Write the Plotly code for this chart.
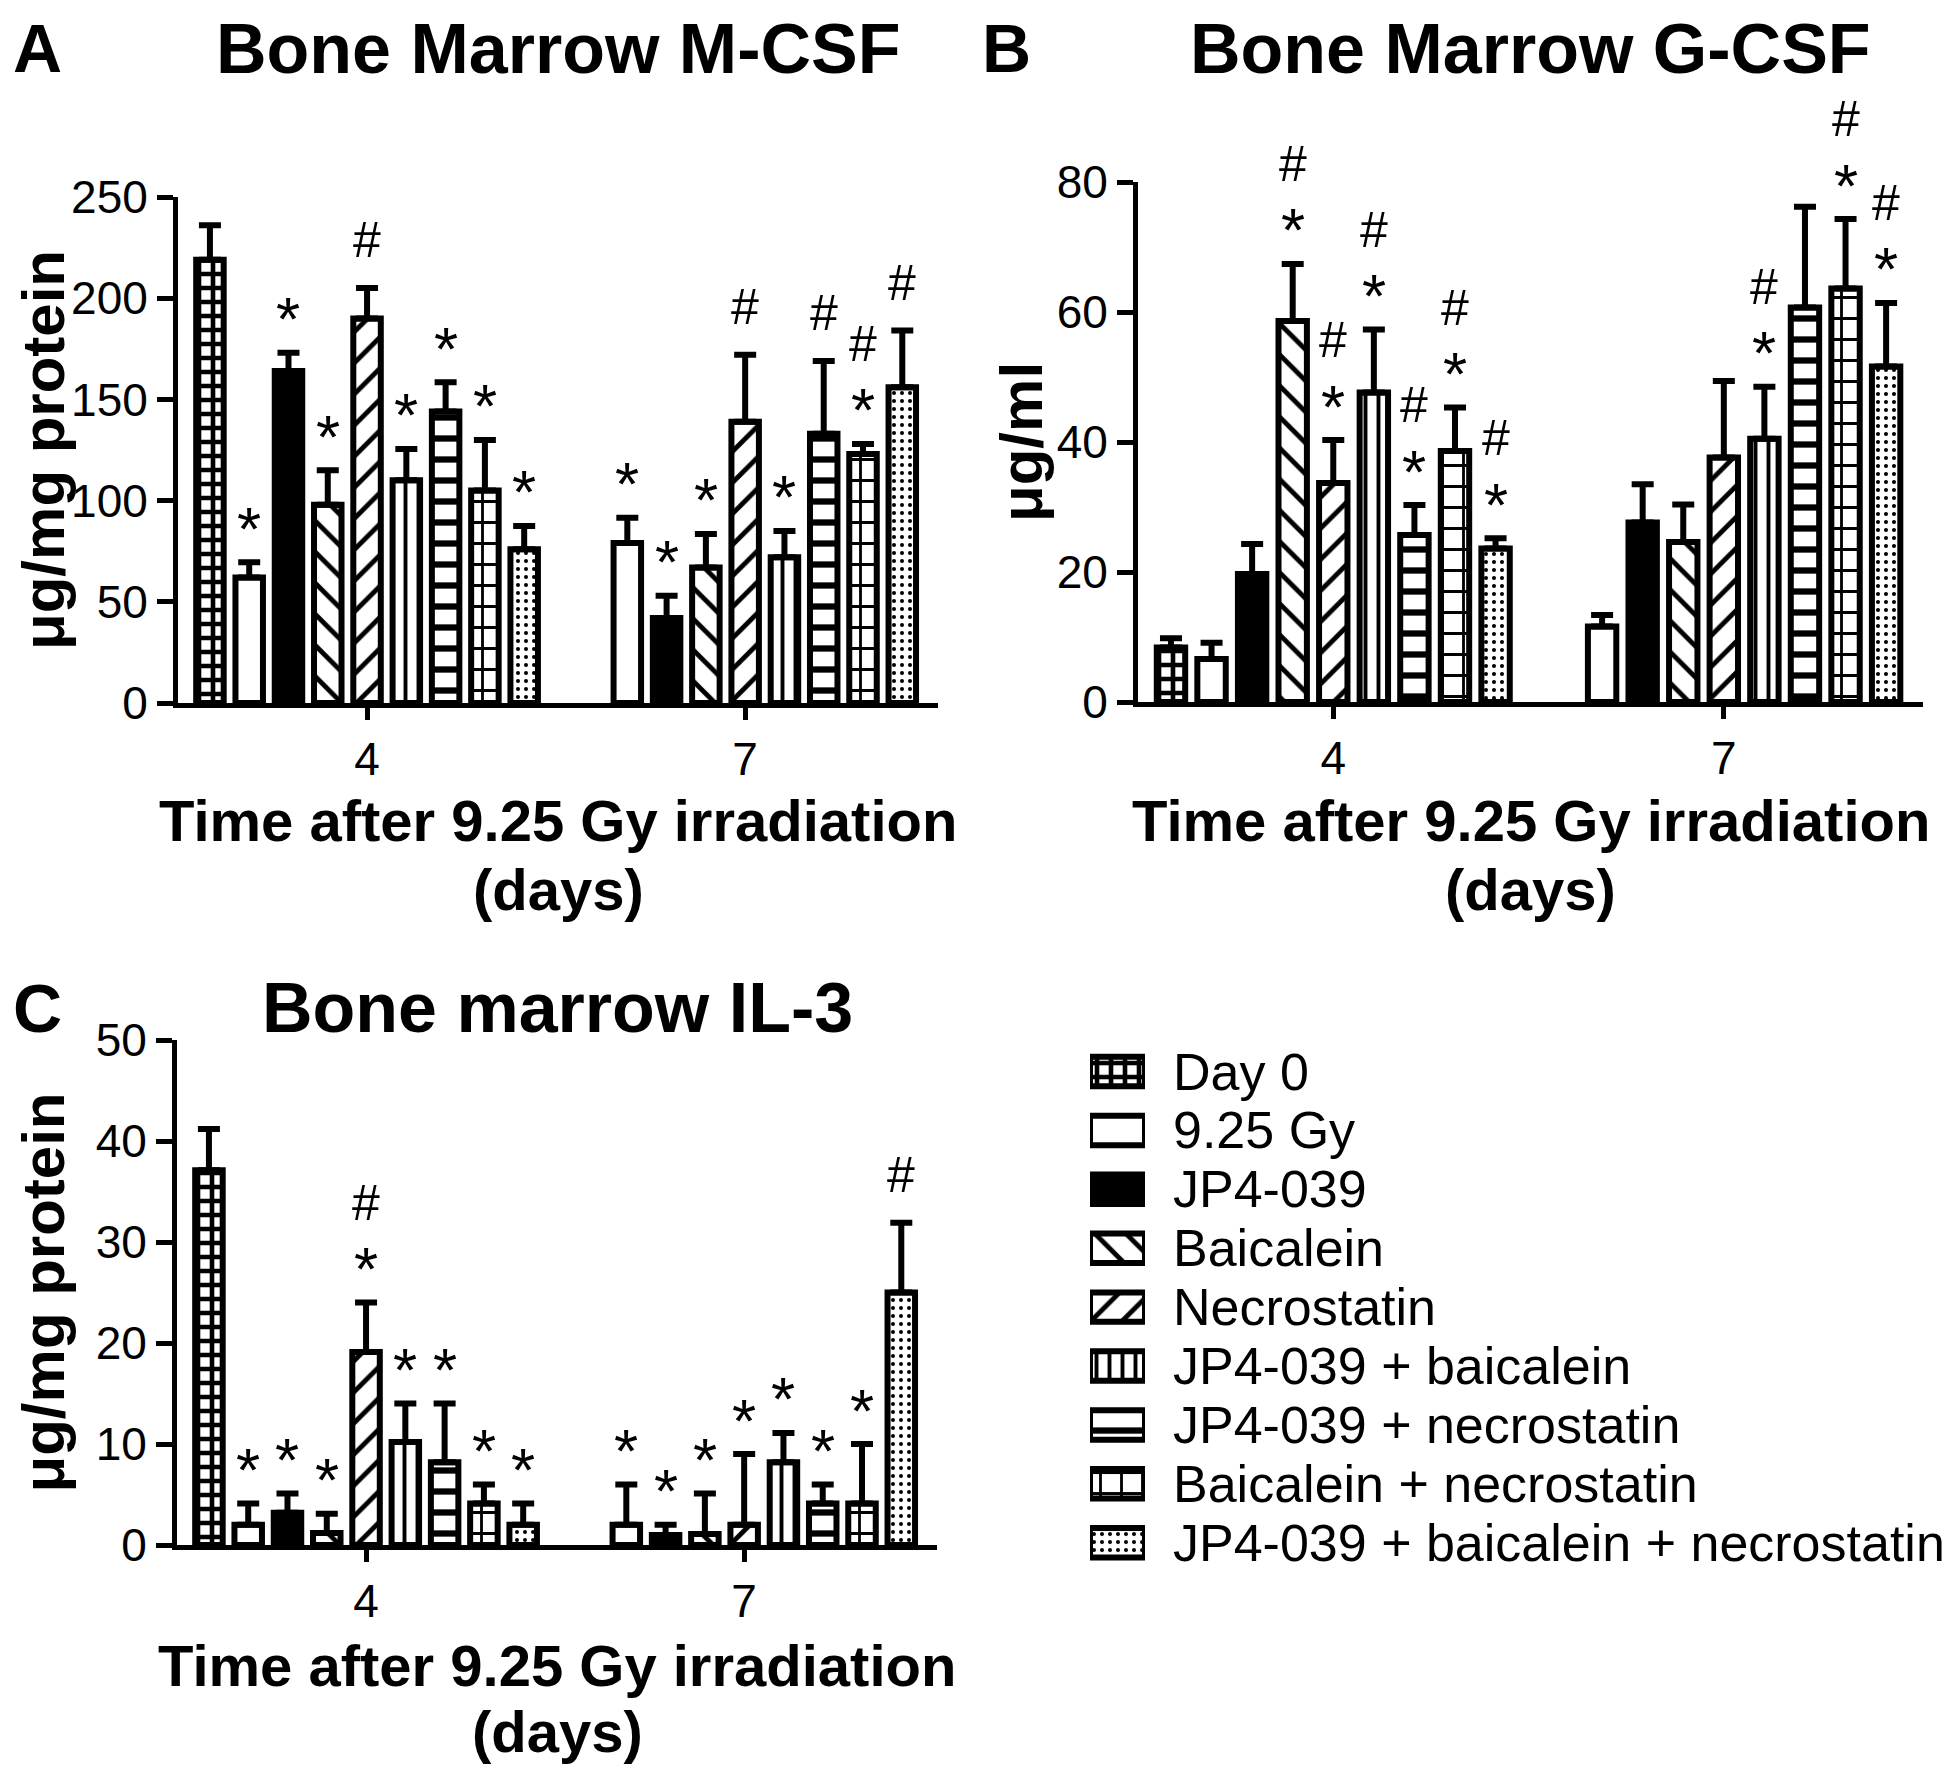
import plotly.graph_objects as go

# treatment groups (legend order) and sampling days
groups = ['Day 0', '9.25 Gy', 'JP4-039', 'Baicalein', 'Necrostatin',
          'JP4-039 + baicalein', 'JP4-039 + necrostatin',
          'Baicalein + necrostatin', 'JP4-039 + baicalein + necrostatin']
days = ['4', '7']

# Panel A - bone marrow M-CSF (ug/mg protein), mean and SEM
mcsf_day4 = [219, 62, 164, 98, 190, 110, 144, 105, 76]
mcsf_day4_sem = [17, 7.5, 9, 17, 15, 15.5, 14.5, 25, 11.5]
mcsf_day7 = [None, 79, 42, 67, 139, 72, 133, 123, 156]
mcsf_day7_sem = [None, 12.5, 11, 16.5, 33, 13, 36, 5, 28]
mcsf_sig_day4 = ['', '*', '*', '*', '#', '*', '*', '*', '*']
mcsf_sig_day7 = ['', '*', '*', '*', '#', '*', '#', '#*', '#']

# Panel B - bone marrow G-CSF (ug/ml)
gcsf_day4 = [8.4, 6.6, 19.7, 58.6, 33.7, 47.6, 25.7, 38.6, 23.6]
gcsf_day4_sem = [1.4, 2.5, 4.6, 8.8, 6.6, 9.7, 4.6, 6.7, 1.6]
gcsf_day7 = [None, 11.6, 27.6, 24.6, 37.6, 40.5, 60.7, 63.6, 51.6]
gcsf_day7_sem = [None, 1.8, 5.9, 5.8, 11.8, 8.0, 15.5, 10.7, 9.8]
gcsf_sig_day4 = ['', '', '', '#*', '#*', '#*', '#*', '#*', '#*']
gcsf_sig_day7 = ['', '', '', '', '', '#*', '', '#*', '#*']

# Panel C - bone marrow IL-3 (ug/mg protein)
il3_day4 = [37.1, 2.0, 3.2, 1.2, 19.1, 10.2, 8.2, 4.1, 2.0]
il3_day4_sem = [4.1, 2.1, 1.9, 1.9, 4.9, 3.8, 5.8, 1.9, 2.1]
il3_day7 = [None, 2.0, 1.0, 1.1, 2.0, 8.2, 4.1, 4.1, 25.0]
il3_day7_sem = [None, 4.0, 1.0, 4.0, 7.0, 2.9, 1.9, 5.9, 6.9]
il3_sig_day4 = ['', '*', '*', '*', '#*', '*', '*', '*', '*']
il3_sig_day7 = ['', '*', '*', '*', '*', '*', '*', '*', '#']

FONT = 'Liberation Sans, Arial, sans-serif'
W, H = 1950, 1768
PAGE_PAD = 8   # default body margin of the html page
BAR_GAP = 0.065
GROUP_GAP = 0.3
SLOT = (1 - BAR_GAP) / len(groups)
LW = 6


def pat(shape, size, solidity):
    return dict(shape=shape, fgcolor='black', bgcolor='white', size=size,
                solidity=solidity, fillmode='replace')


# fill style for each group
styles = [
    dict(color='white', pattern=pat('+', 14, 0.55)),
    dict(color='white'),
    dict(color='black'),
    dict(color='white', pattern=pat('\\', 22, 0.22)),
    dict(color='white', pattern=pat('/', 22, 0.22)),
    dict(color='white', pattern=pat('|', 13, 0.3)),
    dict(color='white', pattern=pat('-', 21, 0.3)),
    dict(color='white', pattern=pat('+', 21, 0.25)),
    dict(color='white', pattern=pat('.', 8, 0.2)),
]


# page pixel -> paper fraction
def px_x(v):
    return (v - PAGE_PAD) / W


def px_y(v):
    return 1 - (v - PAGE_PAD) / H


panels = [
    dict(ax='', letter='A', title='Bone Marrow M-CSF', ylabel='\u03bcg/mg protein',
         d4=mcsf_day4, e4=mcsf_day4_sem, d7=mcsf_day7, e7=mcsf_day7_sem,
         s4=mcsf_sig_day4, s7=mcsf_sig_day7, ymax=250, dtick=50,
         xdom=(178, 938), ydom=(197, 703), title_y=None, letter_x=37, ylab_x=43,
         xlab_y=(821, 889)),
    dict(ax='2', letter='B', title='Bone Marrow G-CSF', ylabel='\u03bcg/ml',
         d4=gcsf_day4, e4=gcsf_day4_sem, d7=gcsf_day7, e7=gcsf_day7_sem,
         s4=gcsf_sig_day4, s7=gcsf_sig_day7, ymax=80, dtick=20,
         xdom=(1138, 1923), ydom=(182, 702), title_y=None, letter_x=1006, ylab_x=1021,
         xlab_y=(821, 889)),
    dict(ax='3', letter='C', title='Bone marrow IL-3', ylabel='\u03bcg/mg protein',
         d4=il3_day4, e4=il3_day4_sem, d7=il3_day7, e7=il3_day7_sem,
         s4=il3_sig_day4, s7=il3_sig_day7, ymax=50, dtick=10,
         xdom=(177, 937), ydom=(1040, 1545), title_y=1008, letter_x=37, ylab_x=43,
         xlab_y=(1665, 1731)),
]

fig = go.Figure()
annotations = []
layout_axes = {}

for p in panels:
    xa, ya = 'x' + p['ax'], 'y' + p['ax']
    for i, g in enumerate(groups):
        fig.add_trace(go.Bar(
            x=[0, 1], y=[p['d4'][i], p['d7'][i]],
            name=g, showlegend=False, xaxis=xa, yaxis=ya,
            marker=dict(line=dict(color='black', width=LW), **styles[i]),
            error_y=dict(type='data', symmetric=False,
                         array=[p['e4'][i], p['e7'][i]], arrayminus=[0, 0],
                         color='black', thickness=LW, width=11),
        ))
        # significance marks above the error bars
        for j, (vals, errs, sig) in enumerate([(p['d4'], p['e4'], p['s4']),
                                               (p['d7'], p['e7'], p['s7'])]):
            mark = sig[i]
            if not mark or vals[i] is None:
                continue
            xpos = j + (i - (len(groups) - 1) / 2) * SLOT
            top = vals[i] + errs[i]
            if '*' in mark:
                annotations.append(dict(x=xpos, y=top, xref=xa, yref=ya, text='*',
                                        yshift=34,
                                        font=dict(family=FONT, size=62, color='black')))
            if '#' in mark:
                annotations.append(dict(x=xpos, y=top, xref=xa, yref=ya, text='#',
                                        yshift=100 if '*' in mark else 48,
                                        font=dict(family=FONT, size=50, color='black')))

    key = p['ax']
    layout_axes['xaxis' + key] = dict(
        domain=[px_x(p['xdom'][0]), px_x(p['xdom'][1])], anchor=ya,
        range=[-0.5, 1.51], tickvals=[0, 1], ticktext=days, automargin=False,
        showline=True, linewidth=5, linecolor='black', ticks='outside',
        ticklen=12, tickwidth=5, tickcolor='black', showgrid=False, zeroline=False,
        tickfont=dict(family=FONT, size=46, color='black'))
    layout_axes['yaxis' + key] = dict(
        domain=[px_y(p['ydom'][1]), px_y(p['ydom'][0])], anchor=xa,
        range=[0, p['ymax']], dtick=p['dtick'], tick0=0, automargin=False,
        showline=True, linewidth=5, linecolor='black', ticks='outside',
        ticklen=16, tickwidth=5, tickcolor='black', showgrid=False, zeroline=False,
        tickfont=dict(family=FONT, size=46, color='black'))

    xmid = px_x((p['xdom'][0] + p['xdom'][1]) / 2)
    ymid = px_y((p['ydom'][0] + p['ydom'][1]) / 2)
    bold = dict(family=FONT, color='black', weight='bold')
    # top-row headings hug the top edge of the figure
    if p['title_y'] is None:
        head = dict(y=1, yanchor='top')
    else:
        head = dict(y=px_y(p['title_y']), yanchor='middle')
    annotations += [
        dict(x=px_x(p['letter_x']), text=p['letter'], font=dict(size=68, **bold), **head),
        dict(x=xmid, text=p['title'], font=dict(size=70, **bold), **head),
        dict(x=px_x(p['ylab_x']), y=ymid, text=p['ylabel'], textangle=-90,
             font=dict(size=60, **bold)),
        dict(x=xmid, y=px_y(p['xlab_y'][0]), text='Time after 9.25 Gy irradiation',
             font=dict(size=58, **bold)),
        dict(x=xmid, y=px_y(p['xlab_y'][1]), text='(days)', font=dict(size=58, **bold)),
    ]

# legend drawn as patterned swatches on a hidden axis
ROW0, ROW = 1071.5, 58.9
for i, g in enumerate(groups):
    fig.add_trace(go.Bar(
        x=[1], y=[i], base=0, orientation='h', width=0.5, offset=-0.25,
        xaxis='x4', yaxis='y4', showlegend=False, hoverinfo='skip',
        marker=dict(line=dict(color='black', width=LW), **styles[i]),
    ))
    annotations.append(dict(x=px_x(1171), y=px_y(ROW0 + i * ROW), text=g,
                            xanchor='left',
                            font=dict(family=FONT, size=52, color='black')))

layout_axes['xaxis4'] = dict(domain=[px_x(1090), px_x(1145)], range=[0, 1],
                             visible=False, anchor='y4', automargin=False)
layout_axes['yaxis4'] = dict(domain=[px_y(ROW0 + 8.5 * ROW), px_y(ROW0 - 0.5 * ROW)],
                             range=[8.5, -0.5], visible=False, anchor='x4',
                             automargin=False)

for a in annotations:
    a.setdefault('xref', 'paper')
    a.setdefault('yref', 'paper')
    a.setdefault('xanchor', 'center')
    a.setdefault('yanchor', 'middle')
    a.setdefault('showarrow', False)

fig.update_layout(
    width=W, height=H,
    margin=dict(l=0, r=0, t=0, b=0, pad=0, autoexpand=False),
    paper_bgcolor='white', plot_bgcolor='white',
    barmode='group', bargap=BAR_GAP, bargroupgap=GROUP_GAP,
    showlegend=False, annotations=annotations,
    font=dict(family=FONT, color='black'),
    **layout_axes,
)

fig.write_html('out.html')
